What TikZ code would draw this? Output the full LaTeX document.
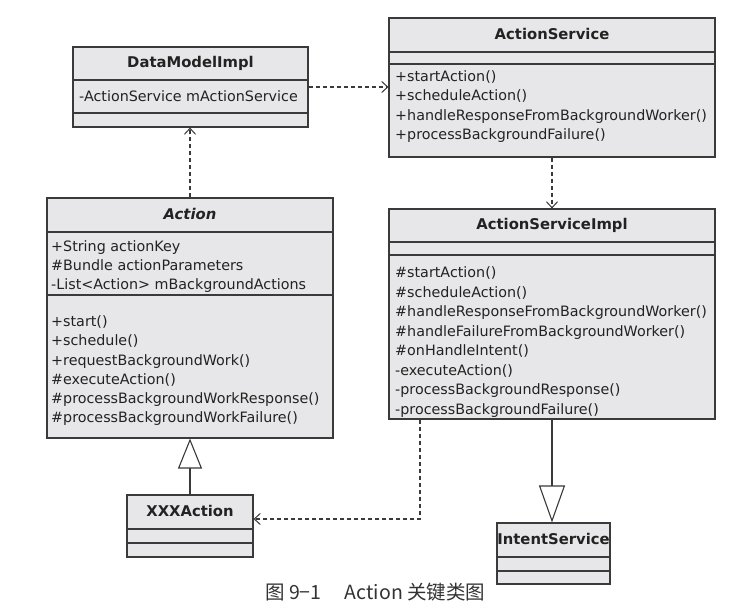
\documentclass[tikz,border=0pt]{standalone}
\usepackage{fontspec}
\setmainfont{DejaVu Sans}
\newfontfamily\cjk{Noto Sans CJK SC}
\usetikzlibrary{arrows.meta,fit}
\definecolor{linec}{HTML}{3A3A3A}
\definecolor{boxfill}{HTML}{E7E7E9}
\definecolor{txtc}{HTML}{222222}
\definecolor{capc}{HTML}{333333}
\newcommand{\umllines}[5]{% prefix, x, first baseline, spacing, list
  \foreach \t [count=\i from 0] in {#5}
    \node[txt, anchor=base west] (#1-\i) at (#2, {#3+\i*#4}) {\t};}
\begin{document}
\begin{tikzpicture}[x=1pt,y=-1pt,
  classbox/.style={draw=linec, fill=boxfill, line width=1.1pt, inner sep=0pt},
  divline/.style={draw=linec, line width=1.1pt},
  txt/.style={font=\fontsize{14.3}{17}\selectfont, text=txtc, inner sep=0pt},
  hdr/.style={font=\fontsize{14.8}{17}\selectfont\bfseries, text=txtc, inner sep=0pt, anchor=base},
  dep/.style={draw=linec, line width=1.1pt, dash pattern=on 4pt off 3pt,
    -{Straight Barb[length=6pt,width=11pt,line width=1pt]}},
  gen/.style={draw=linec, line width=1.1pt,
    -{Triangle[length=30pt,width=24pt,fill=white,line width=1.1pt]}},
  genlong/.style={draw=linec, line width=1.1pt,
    -{Triangle[length=37pt,width=26pt,fill=white,line width=1.1pt]}}]
\useasboundingbox (0,0) rectangle (756,612);
\fill[white] (0,0) rectangle (756,612);

% DataModelImpl
\node[classbox, fit={(73,47) (308,127)}] (dm) {};
\draw[divline] (dm.west |- 0,80) -- (dm.east |- 0,80);
\draw[divline] (dm.west |- 0,113) -- (dm.east |- 0,113);
\node[hdr] (dm-name) at (190.5,68) {DataModelImpl};
\node[txt, anchor=base west] (dm-attr) at (79,102) {-ActionService mActionService};

% ActionService
\node[classbox, fit={(389,18) (715,157)}] (as) {};
\draw[divline] (as.west |- 0,52) -- (as.east |- 0,52);
\draw[divline] (as.west |- 0,64) -- (as.east |- 0,64);
\node[hdr] (as-name) at (552,40) {ActionService};
\umllines{asop}{395}{81.5}{19.4}{+startAction(),+scheduleAction(),+handleResponseFromBackgroundWorker(),+processBackgroundFailure()}

% Action
\node[classbox, fit={(47,198) (333,438)}] (act) {};
\draw[divline] (act.west |- 0,232) -- (act.east |- 0,232);
\draw[divline] (act.west |- 0,295) -- (act.east |- 0,295);
\node[hdr, font=\fontsize{14.8}{17}\selectfont\bfseries\itshape] (act-name) at (190,220) {Action};
\umllines{actat}{51}{252}{19}{+String actionKey,\#Bundle actionParameters,-List<Action> mBackgroundActions}
\umllines{actop}{51}{326.5}{19.3}{+start(),+schedule(),+requestBackgroundWork(),\#executeAction(),\#processBackgroundWorkResponse(),\#processBackgroundWorkFailure()}

% ActionServiceImpl
\node[classbox, fit={(389,209) (715,419)}] (asi) {};
\draw[divline] (asi.west |- 0,242) -- (asi.east |- 0,242);
\draw[divline] (asi.west |- 0,255) -- (asi.east |- 0,255);
\node[hdr] (asi-name) at (552,230) {ActionServiceImpl};
\umllines{asiop}{395}{278}{19.5}{\#startAction(),\#scheduleAction(),\#handleResponseFromBackgroundWorker(),\#handleFailureFromBackgroundWorker(),\#onHandleIntent(),-executeAction(),-processBackgroundResponse(),-processBackgroundFailure()}

% XXXAction
\node[classbox, fit={(127,495) (253,557)}] (xxx) {};
\draw[divline] (xxx.west |- 0,529) -- (xxx.east |- 0,529);
\draw[divline] (xxx.west |- 0,543) -- (xxx.east |- 0,543);
\node[hdr] (xxx-name) at (190,517) {XXXAction};

% IntentService
\node[classbox, fit={(497,523) (610,584)}] (is) {};
\draw[divline] (is.west |- 0,557) -- (is.east |- 0,557);
\draw[divline] (is.west |- 0,571) -- (is.east |- 0,571);
\node[hdr] (is-name) at (553.5,545) {IntentService};

% connectors
\draw[dep] (dm.east) -- (dm.east -| as.west);
\draw[dep] (act.north) -- (act.north |- dm.south);
\draw[dep] (as.south) -- (asi.north);
\draw[dep] ([xshift=-132pt]asi.south) |- ([yshift=7pt]xxx.east);
\draw[gen] (xxx.north) -- (xxx.north |- act.south);
\draw[genlong] (asi.south) -- (asi.south |- is.north);

% caption
\node[font=\cjk\fontsize{19.5}{22}\selectfont, text=capc, anchor=base west, inner sep=0pt] (cap) at (265,599) {图 9−1\hspace{1.2em}Action 关键类图};
\end{tikzpicture}
\end{document}
